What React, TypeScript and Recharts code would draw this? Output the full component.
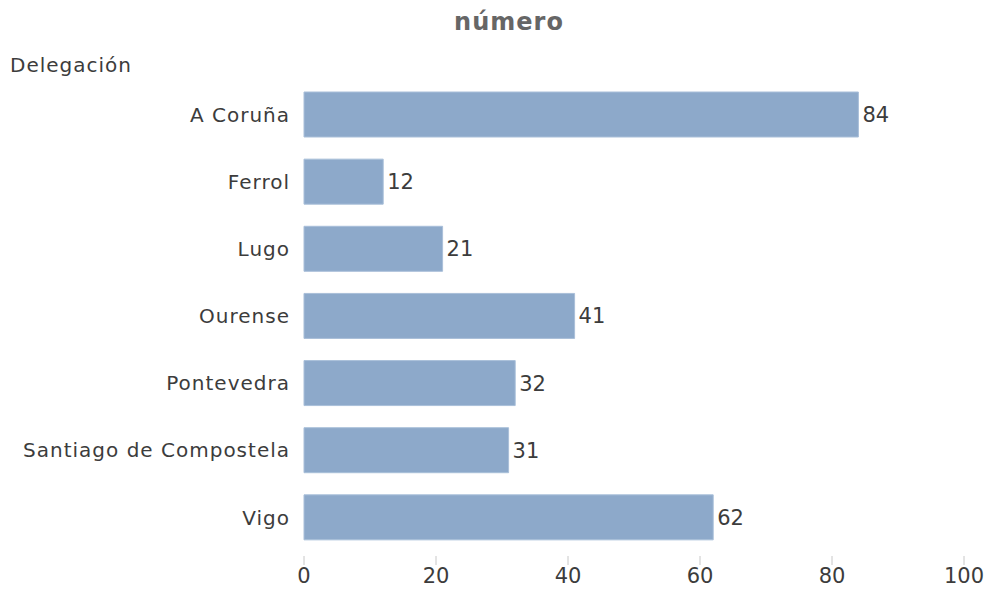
import { BarChart, Bar, XAxis, YAxis, LabelList } from 'recharts'

const delegaciones = [
  'A Coruña',
  'Ferrol',
  'Lugo',
  'Ourense',
  'Pontevedra',
  'Santiago de Compostela',
  'Vigo',
]
const numero = [84, 12, 21, 41, 32, 31, 62]
const xTicks = [0, 20, 40, 60, 80, 100]

const FONT = "'DejaVu Sans', sans-serif"
const TEXT = '#3c3c3c'

const data = delegaciones.map((name, i) => ({ name, numero: numero[i] }))

function XTick(props: any) {
  const { x, y, payload } = props
  return (
    <g>
      <line x1={x} x2={x} y1={y - 3} y2={y + 6} stroke="#c8c8c8" strokeWidth={1} />
      <text
        x={x}
        y={y + 24}
        textAnchor="middle"
        fill={TEXT}
        fontSize={21}
        fontFamily={FONT}
      >
        {payload.value}
      </text>
    </g>
  )
}

export default function App() {
  return (
    <div style={{ position: 'absolute', left: 0, top: 0, width: 989, height: 591, background: '#fff' }}>
      <div
        style={{
          position: 'absolute',
          left: 509,
          top: 8,
          transform: 'translateX(-50%)',
          fontFamily: FONT,
          fontSize: 24,
          fontWeight: 'bold',
          letterSpacing: 1,
          color: '#666',
          whiteSpace: 'nowrap',
        }}
      >
        número
      </div>
      <div
        style={{
          position: 'absolute',
          left: 10,
          top: 53,
          fontFamily: FONT,
          fontSize: 20,
          letterSpacing: 1,
          color: TEXT,
        }}
      >
        Delegación
      </div>
      <BarChart
        width={989}
        height={591}
        data={data}
        layout="vertical"
        barSize={45}
        margin={{ top: 81, right: 25, left: 0, bottom: 10 }}
      >
        <XAxis
          type="number"
          domain={[0, 100]}
          ticks={xTicks}
          axisLine={false}
          tickLine={false}
          tick={<XTick />}
          height={30}
          interval={0}
        />
        <YAxis
          type="category"
          dataKey="name"
          width={304}
          axisLine={false}
          tickLine={false}
          tickMargin={8}
          interval={0}
          tick={{ fontSize: 20, fill: TEXT, fontFamily: FONT, letterSpacing: 1 }}
        />
        <Bar dataKey="numero" fill="#8DA9CA" stroke="#A9BFD9" strokeWidth={1} isAnimationActive={false}>
          <LabelList
            dataKey="numero"
            position="right"
            offset={4}
            fill={TEXT}
            fontSize={21}
            fontFamily={FONT}
          />
        </Bar>
      </BarChart>
    </div>
  )
}
